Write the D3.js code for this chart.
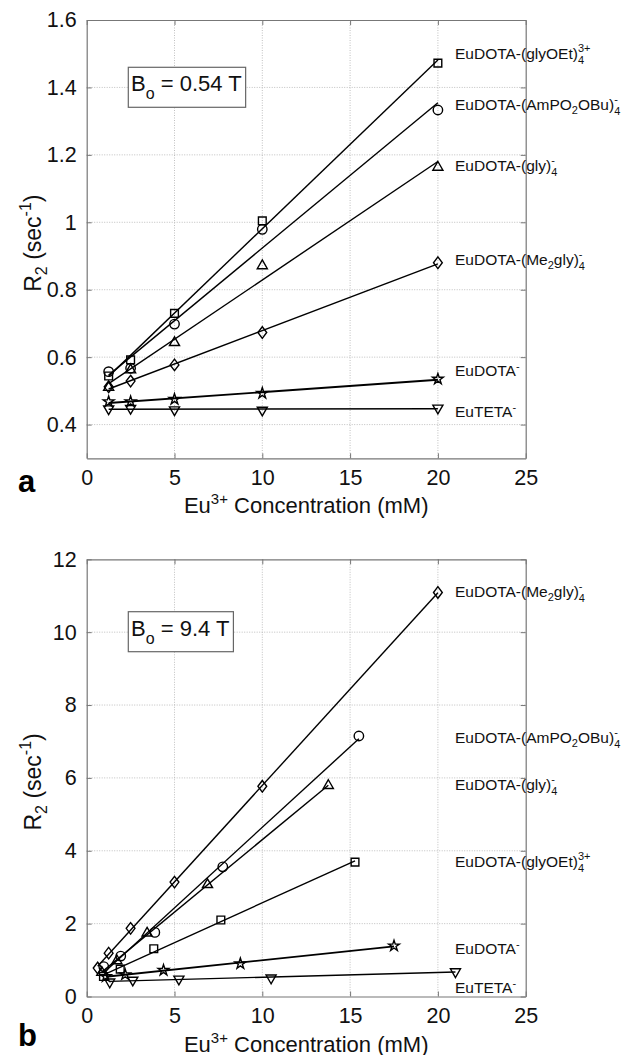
<!DOCTYPE html>
<html><head><meta charset="utf-8">
<script src="https://cdn.jsdelivr.net/npm/d3@7"></script>
<style>
html,body{margin:0;padding:0;background:#fff;}
svg{display:block;font-family:"Liberation Sans",Arial,sans-serif;}
</style></head>
<body>
<svg id="chart" width="639" height="1055"></svg>
<script>
// ---------------- DATA ----------------
// Panel a (B0 = 0.54 T)
const aConc = [1.25, 2.5, 5, 10, 20];
const aGlyOEt   = [0.544, 0.592, 0.730, 1.004, 1.472];
const aAmPO2OBu = [0.557, 0.567, 0.698, 0.979, 1.333];
const aGly      = [0.510, 0.562, 0.643, 0.871, 1.163];
const aMe2gly   = [0.512, 0.529, 0.577, 0.673, 0.880];
const aDOTA     = [0.468, 0.468, 0.475, 0.493, 0.535];
const aTETA     = [0.447, 0.448, 0.444, 0.443, 0.449];

// Panel b (B0 = 9.4 T)
const bMe2glyX   = [0.625, 1.25, 2.5, 5, 10, 20];
const bMe2glyY   = [0.78, 1.19, 1.87, 3.14, 5.77, 11.09];
const bAmPO2OBuX = [0.97, 1.94, 3.88, 7.75, 15.5];
const bAmPO2OBuY = [0.82, 1.11, 1.76, 3.56, 7.15];
const bGlyX      = [0.86, 1.72, 3.44, 6.88, 13.76];
const bGlyY      = [0.66, 0.98, 1.74, 3.07, 5.79];
const bGlyOEtX   = [0.955, 1.91, 3.82, 7.64, 15.28];
const bGlyOEtY   = [0.55, 0.75, 1.31, 2.10, 3.69];
const bDOTAX     = [1.09, 2.19, 4.375, 8.75, 17.5];
const bDOTAY     = [0.55, 0.60, 0.72, 0.90, 1.39];
const bTETAX     = [1.31, 2.625, 5.25, 10.5, 21];
const bTETAY     = [0.40, 0.45, 0.48, 0.51, 0.68];

const xTicks = [0, 5, 10, 15, 20, 25];
const aYTicks = [0.4, 0.6, 0.8, 1.0, 1.2, 1.4, 1.6];
const bYTicks = [0, 2, 4, 6, 8, 10, 12];

// ---------------- LAYOUT ----------------
const svg = d3.select("#chart");
const L = 86.7, R = 525.7;
const panels = [
  {top: 20, bottom: 458.3, yDom: [0.3, 1.6], yTicks: aYTicks, fmt: d => String(+d.toFixed(1)),
   letter: "a", letterY: 492, boxText: "0.54 T", boxY: 67.3,
   series: [
     {x: aConc, y: aGlyOEt,   sym: "square",  label: ["EuDOTA-(glyOEt)", "4", "3+"], ly: 59},
     {x: aConc, y: aAmPO2OBu, sym: "circle",  label: ["EuDOTA-(AmPO", "2", "OBu)", "4", "-"], ly: 110},
     {x: aConc, y: aGly,      sym: "triangle",label: ["EuDOTA-(gly)", "4", "-"], ly: 171},
     {x: aConc, y: aMe2gly,   sym: "diamond", label: ["EuDOTA-(Me", "2", "gly)", "4", "-"], ly: 265},
     {x: aConc, y: aDOTA,     sym: "star",    label: ["EuDOTA", "-"], ly: 376},
     {x: aConc, y: aTETA,     sym: "tridown", label: ["EuTETA", "-"], ly: 417}
   ]},
  {top: 559.3, bottom: 996.5, yDom: [0, 12], yTicks: bYTicks, fmt: d => String(d),
   letter: "b", letterY: 1046, boxText: "9.4 T", boxY: 611.7,
   series: [
     {x: bMe2glyX,   y: bMe2glyY,   sym: "diamond", label: ["EuDOTA-(Me", "2", "gly)", "4", "-"], ly: 597},
     {x: bAmPO2OBuX, y: bAmPO2OBuY, sym: "circle",  label: ["EuDOTA-(AmPO", "2", "OBu)", "4", "-"], ly: 743},
     {x: bGlyX,      y: bGlyY,      sym: "triangle",label: ["EuDOTA-(gly)", "4", "-"], ly: 790},
     {x: bGlyOEtX,   y: bGlyOEtY,   sym: "square",  label: ["EuDOTA-(glyOEt)", "4", "3+"], ly: 867},
     {x: bDOTAX,     y: bDOTAY,     sym: "star",    label: ["EuDOTA", "-"], ly: 954},
     {x: bTETAX,     y: bTETAY,     sym: "tridown", label: ["EuTETA", "-"], ly: 993}
   ]}
];

const diamondType = {draw(ctx, size) { const h = 5.8, w = 4.4;
  ctx.moveTo(0, -h); ctx.lineTo(w, 0); ctx.lineTo(0, h); ctx.lineTo(-w, 0); ctx.closePath(); }};
const symbols = {
  square:   {type: d3.symbolSquare, size: 60, rot: 0},
  circle:   {type: d3.symbolCircle, size: 70, rot: 0},
  triangle: {type: d3.symbolTriangle, size: 44, rot: 0},
  diamond:  {type: diamondType, size: 1, rot: 0},
  star:     {type: d3.symbolStar, size: 36, rot: 0},
  tridown:  {type: d3.symbolTriangle, size: 44, rot: 180}
};

function linfit(xs, ys) {
  const n = xs.length, mx = d3.mean(xs), my = d3.mean(ys);
  let sxy = 0, sxx = 0;
  for (let i = 0; i < n; i++) { sxy += (xs[i]-mx)*(ys[i]-my); sxx += (xs[i]-mx)**2; }
  const m = sxy / sxx; return x => my + m*(x - mx);
}

panels.forEach(p => {
  const x = d3.scaleLinear().domain([0, 25]).range([L, R]);
  const y = d3.scaleLinear().domain(p.yDom).range([p.bottom, p.top]);
  const g = svg.append("g");

  // grid
  g.append("g").selectAll("line").data(xTicks.filter(t => t > 0 && t < 25)).join("line")
    .attr("x1", d => x(d)).attr("x2", d => x(d)).attr("y1", p.top).attr("y2", p.bottom)
    .attr("stroke", "#b0b0b0").attr("stroke-width", 0.8).attr("stroke-dasharray", "1,1.5");
  g.append("g").selectAll("line").data(p.yTicks.filter(t => t > p.yDom[0] && t < p.yDom[1])).join("line")
    .attr("x1", L).attr("x2", R).attr("y1", d => y(d)).attr("y2", d => y(d))
    .attr("stroke", "#b0b0b0").attr("stroke-width", 0.8).attr("stroke-dasharray", "1,1.5");

  // axes (inward ticks on all sides)
  const ax = (gen, tr) => g.append("g").attr("transform", tr).call(gen);
  const styleAxis = sel => { sel.select(".domain").attr("stroke", "#777").attr("stroke-width", 1.2);
    sel.selectAll(".tick line").attr("stroke", "#777");
    sel.selectAll("text").attr("font-size", 21.5).attr("fill", "#111")
      .attr("font-family", "'Liberation Sans', Arial, sans-serif"); };
  styleAxis(ax(d3.axisBottom(x).tickValues(xTicks).tickSizeInner(-5).tickSizeOuter(0).tickPadding(11), `translate(0,${p.bottom})`));
  styleAxis(ax(d3.axisTop(x).tickValues(xTicks).tickSizeInner(-5).tickSizeOuter(0).tickFormat(""), `translate(0,${p.top})`));
  styleAxis(ax(d3.axisLeft(y).tickValues(p.yTicks).tickSizeInner(-5).tickSizeOuter(0).tickPadding(10).tickFormat(p.fmt), `translate(${L},0)`));
  styleAxis(ax(d3.axisRight(y).tickValues(p.yTicks).tickSizeInner(-5).tickSizeOuter(0).tickFormat(""), `translate(${R},0)`));

  // fit lines and markers
  p.series.forEach(s => {
    const f = linfit(s.x, s.y);
    const x0 = d3.min(s.x), x1 = d3.max(s.x);
    g.append("line").attr("x1", x(x0)).attr("y1", y(f(x0))).attr("x2", x(x1)).attr("y2", y(f(x1)))
      .attr("stroke", "#000").attr("stroke-width", s.sym === "star" ? 1.9 : 1.4);
    const sy = symbols[s.sym];
    g.append("g").selectAll("path").data(s.x.map((v, i) => [v, s.y[i]])).join("path")
      .attr("d", d3.symbol().type(sy.type).size(sy.size))
      .attr("transform", d => `translate(${x(d[0])},${y(d[1])}) rotate(${sy.rot})`)
      .attr("fill", "none").attr("stroke", "#000").attr("stroke-width", 1.4);

    // label
    const t = g.append("text").attr("x", 455).attr("y", s.ly).attr("font-size", 15.5).attr("fill", "#111");
    const parts = s.label;
    t.append("tspan").text(parts[0]);
    if (parts.length === 2) {
      t.append("tspan").attr("font-size", 11).attr("dy", -6).text(parts[1]);
    } else {
      let idx = 1;
      if (parts.length === 5) {
        t.append("tspan").attr("font-size", 11).attr("dy", 4).text(parts[1]);
        t.append("tspan").attr("dy", -4).text(parts[2]);
        idx = 3;
      }
      t.append("tspan").attr("font-size", 11).attr("dy", 5).text(parts[idx]);
      t.append("tspan").attr("font-size", 11).attr("dx", -6.1).attr("dy", -12).text(parts[idx+1]);
    }
  });

  // B0 box
  const boxG = g.append("g");
  const bt = g.append("text").attr("x", 131).attr("y", p.boxY + 24).attr("font-size", 22).attr("fill", "#111");
  bt.append("tspan").text("B");
  bt.append("tspan").attr("font-size", 16).attr("dy", 8).text("o");
  bt.append("tspan").attr("dy", -8).text(" = " + p.boxText);
  const bb = bt.node().getBBox();
  boxG.append("rect").attr("x", 128.3).attr("y", p.boxY).attr("width", bb.x + bb.width - 128.3 + 4).attr("height", 40)
    .attr("fill", "#fff").attr("stroke", "#666").attr("stroke-width", 1.2);

  // axis labels
  const xlab = g.append("text").attr("x", (L + R) / 2).attr("y", p.bottom + 55).attr("text-anchor", "middle")
    .attr("font-size", 22).attr("fill", "#111");
  xlab.append("tspan").text("Eu");
  xlab.append("tspan").attr("font-size", 15).attr("dy", -9).text("3+");
  xlab.append("tspan").attr("dy", 9).text(" Concentration (mM)");

  const ylab = g.append("text").attr("transform", `translate(41,${(p.top + p.bottom) / 2 + 4}) rotate(-90)`)
    .attr("text-anchor", "middle").attr("font-size", 23).attr("fill", "#111");
  ylab.append("tspan").text("R");
  ylab.append("tspan").attr("font-size", 16).attr("dy", 6).text("2");
  ylab.append("tspan").attr("dy", -6).text(" (sec");
  ylab.append("tspan").attr("font-size", 16).attr("dy", -10).text("-1");
  ylab.append("tspan").attr("dy", 10).text(")");

  g.append("text").attr("x", 18).attr("y", p.letterY).attr("font-size", 31).attr("font-weight", "bold")
    .attr("fill", "#000").text(p.letter);
});
</script>
</body></html>
